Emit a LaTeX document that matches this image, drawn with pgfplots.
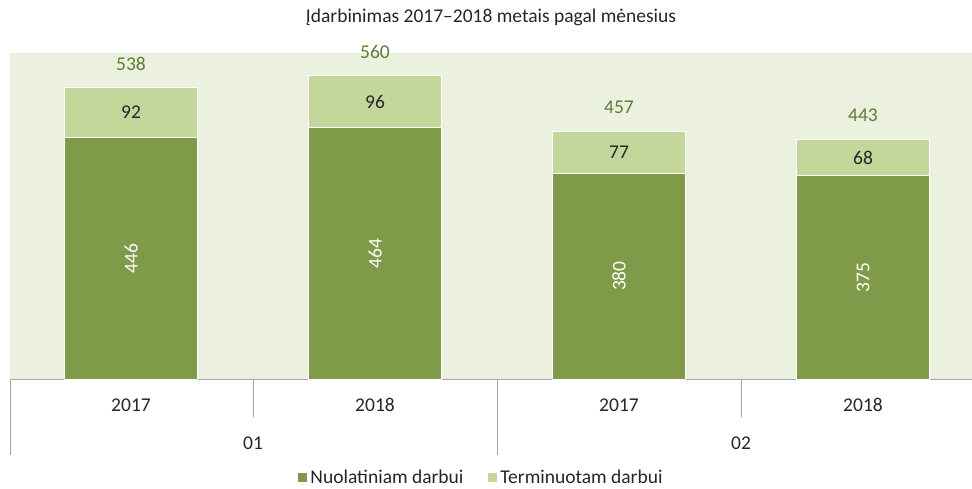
\documentclass[border=0pt]{standalone}
\usepackage{pgfplots}
\pgfplotsset{compat=1.18}
\usepackage{fontspec}
\setmainfont{Carlito}
\definecolor{dkgreen}{HTML}{7F9A48}
\definecolor{ltgreen}{HTML}{C4D79B}
\definecolor{bggreen}{HTML}{EBF1DE}
\definecolor{totgreen}{HTML}{5F7D34}
\definecolor{axgray}{HTML}{A6A6A6}
\definecolor{txt}{HTML}{262626}
\tikzset{lbl/.style={font=\fontsize{19.5}{22}\selectfont}}
\begin{document}
\begin{tikzpicture}
\begin{axis}[
  scale only axis,
  width=962pt, height=326pt,
  xmin=-0.4959, xmax=3.4467,
  ymin=0, ymax=602,
  ybar stacked,
  bar width=133pt,
  clip=false,
  axis background/.style={fill=bggreen},
  separate axis lines,
  axis x line*=bottom,
  axis y line=none,
  x axis line style={-, draw=axgray, line width=0.8pt},
  xtick={0,1,2,3},
  xticklabels={2017,2018,2017,2018},
  major tick length=0pt,
  xticklabel style={anchor=center, yshift=-26pt, font=\fontsize{19.5}{22}\selectfont, text=txt},
  legend style={at={(0.4896,-0.302)}, anchor=center, draw=none, fill=none,
    inner sep=0pt, outer sep=0pt,
    legend columns=2, font=\fontsize{19.5}{22}\selectfont, text=txt,
    /tikz/every even column/.append style={column sep=22pt},
    legend cell align=left},
  legend image code/.code={\fill[#1] (0pt,-5pt) rectangle (10pt,5pt);},
  after end axis/.code={
    \node[lbl, rotate=90, text=white] at (axis cs:0,223) {446};
    \node[lbl, rotate=90, text=white] at (axis cs:1,232) {464};
    \node[lbl, rotate=90, text=white] at (axis cs:2,190) {380};
    \node[lbl, rotate=90, text=white] at (axis cs:3,187.5) {375};
    \node[lbl, text=txt] at (axis cs:0,492) {92};
    \node[lbl, text=txt] at (axis cs:1,512) {96};
    \node[lbl, text=txt] at (axis cs:2,418.5) {77};
    \node[lbl, text=txt] at (axis cs:3,409) {68};
    \node[lbl, text=totgreen] at (axis cs:0,582) {538};
    \node[lbl, text=totgreen] at (axis cs:1,604) {560};
    \node[lbl, text=totgreen] at (axis cs:2,501) {457};
    \node[lbl, text=totgreen] at (axis cs:3,487) {443};
    \draw[axgray, line width=0.8pt] (axis cs:-0.4959,0) -- ([yshift=-76pt]axis cs:-0.4959,0);
    \draw[axgray, line width=0.8pt] (axis cs:0.5,0) -- ([yshift=-38pt]axis cs:0.5,0);
    \draw[axgray, line width=0.8pt] (axis cs:1.5,0) -- ([yshift=-76pt]axis cs:1.5,0);
    \draw[axgray, line width=0.8pt] (axis cs:2.5,0) -- ([yshift=-38pt]axis cs:2.5,0);
    \node[lbl, text=txt] at ([yshift=-64pt]axis cs:0.5,0) {01};
    \node[lbl, text=txt] at ([yshift=-64pt]axis cs:2.5,0) {02};
  },
]
\addplot[fill=dkgreen, draw=white, line width=1pt] coordinates {(0,446) (1,464) (2,380) (3,375)};
\addplot[fill=ltgreen, draw=white, line width=1pt] coordinates {(0,92) (1,96) (2,77) (3,68)};
\legend{Nuolatiniam darbui, Terminuotam darbui}
\end{axis}
\node[lbl, text=txt] at (481pt,362pt) {Įdarbinimas 2017–2018 metais pagal mėnesius};
\pgfresetboundingbox
\path[use as bounding box] (-10pt,-109pt) rectangle (962pt,379pt);
\end{tikzpicture}
\end{document}
